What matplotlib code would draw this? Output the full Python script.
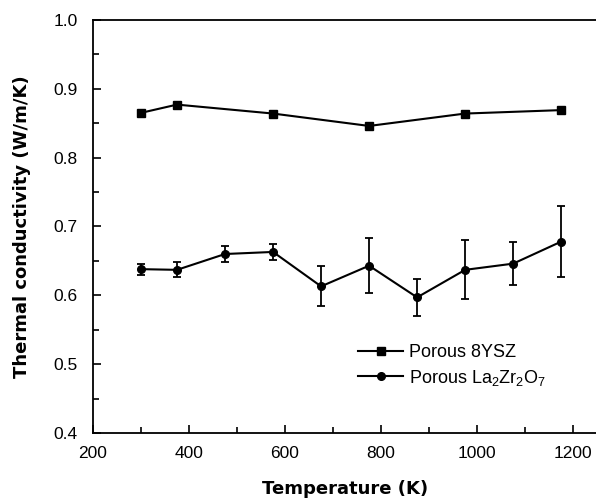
import matplotlib
matplotlib.use("Agg")
import matplotlib.pyplot as plt
from matplotlib.ticker import MultipleLocator
from matplotlib.lines import Line2D

plt.rcParams['font.family'] = ['Liberation Sans', 'DejaVu Sans']
plt.rcParams['mathtext.fontset'] = 'custom'
plt.rcParams['mathtext.rm'] = 'Liberation Sans'

ysz_T = [300, 375, 575, 775, 975, 1175]
ysz_k = [0.865, 0.877, 0.864, 0.846, 0.864, 0.869]

lzo_T = [300, 375, 475, 575, 675, 775, 875, 975, 1075, 1175]
lzo_k = [0.638, 0.637, 0.660, 0.663, 0.613, 0.643, 0.597, 0.637, 0.646, 0.678]
lzo_err = [0.008, 0.011, 0.011, 0.012, 0.029, 0.040, 0.027, 0.043, 0.031, 0.052]

fig = plt.figure(figsize=(5.96, 4.98), dpi=100)
ax = fig.add_axes([0.156, 0.1305, 0.846, 0.8295])

ax.plot(ysz_T, ysz_k, '-s', color='black', lw=1.5, ms=5.5)
ax.errorbar(lzo_T, lzo_k, yerr=lzo_err, fmt='-o', color='black', lw=1.5, ms=5.5,
            elinewidth=1.3, capsize=3, capthick=1.3)

ax.set_xlim(200, 1250)
ax.set_ylim(0.4, 1.0)
ax.xaxis.set_major_locator(MultipleLocator(200))
ax.xaxis.set_minor_locator(MultipleLocator(100))
ax.yaxis.set_major_locator(MultipleLocator(0.1))
ax.yaxis.set_minor_locator(MultipleLocator(0.05))
ax.tick_params(which='both', direction='in', top=False, right=False, labelsize=12.5, width=1.2)
ax.tick_params(which='major', length=6)
ax.tick_params(which='minor', length=4)
ax.tick_params(axis='x', pad=9)
ax.tick_params(axis='y', pad=11)
ax.spines['right'].set_visible(False)
for s in ['left', 'bottom', 'top']:
    ax.spines[s].set_linewidth(1.3)

ax.set_xlabel('Temperature (K)', fontsize=13, fontweight='bold', family='DejaVu Sans', labelpad=14)
ax.set_ylabel('Thermal conductivity (W/m/K)', fontsize=13, fontweight='bold', family='DejaVu Sans', labelpad=16)

handles = [Line2D([], [], color='black', lw=1.5, marker='s', ms=5.5),
           Line2D([], [], color='black', lw=1.5, marker='o', ms=5.5)]
labels = ['Porous 8YSZ', 'Porous La$_2$Zr$_2$O$_7$']
ax.legend(handles, labels, loc='upper left', bbox_to_anchor=(0.526, 0.215), frameon=False,
          fontsize=13, handlelength=2.5, handletextpad=0.3, labelspacing=0.35,
          borderpad=0, borderaxespad=0)

fig.savefig('out.png', dpi=100)
